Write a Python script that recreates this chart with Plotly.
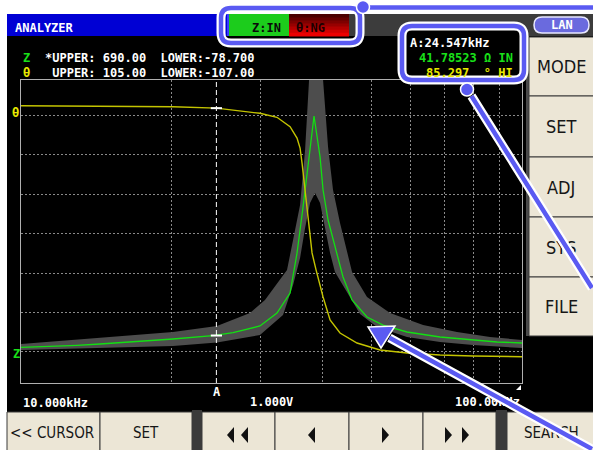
import plotly.graph_objects as go

# ---------------- data ----------------
f_start_khz, f_stop_khz = 10.0, 100.0
z_lower, z_upper = -78.7, 690.0
t_lower, t_upper = -107.0, 105.0

grid_freq_khz = [20, 30, 40, 50, 60, 70, 80, 90]

z_freq_khz = [10.00, 11.06, 12.94, 14.38, 16.73, 20.11, 24.16, 26.50, 29.99, 32.43,
              34.44, 35.56, 36.56, 37.41, 38.45, 39.53, 40.08, 41.01, 42.73, 43.93,
              45.79, 49.05, 52.80, 58.95, 68.61, 79.84, 89.18, 100.0]
z_ohm = [11.9, 13.4, 16.9, 20.2, 25.3, 32.9, 41.3, 48.9, 65.9, 98.9,
         149.6, 251.1, 367.8, 479.4, 598.7, 494.7, 410.9, 334.8, 251.1, 190.2,
         131.9, 88.7, 68.4, 50.7, 38.0, 30.4, 25.3, 22.8]

band_hi_freq_khz = [10.00, 14.38, 20.11, 24.61, 28.65, 30.69, 32.43, 33.96, 34.92, 36.06,
                    36.90, 37.58, 38.81, 39.53, 40.08, 41.01, 41.96, 43.33, 45.79, 49.05,
                    54.52, 63.47, 74.18, 86.34, 100.0]
band_hi_ohm = [20.2, 35.5, 50.7, 65.9, 98.9, 131.9, 175.0, 208.0, 284.1, 372.9,
               512.4, 690.0, 842.2, 766.1, 690.0, 520.0, 410.9, 327.2, 202.9, 139.5,
               98.9, 68.4, 50.7, 38.0, 30.4]

band_lo_freq_khz = [10.00, 14.38, 20.11, 24.61, 29.99, 33.34, 34.92, 36.06, 36.90, 37.75,
                    38.63, 39.53, 40.45, 41.39, 42.34, 44.75, 47.50, 51.36, 58.95, 68.61,
                    79.84, 100.0]
band_lo_ohm = [5.0, 10.1, 15.2, 24.0, 43.1, 93.8, 169.9, 238.4, 314.5, 378.0,
               403.3, 378.0, 314.5, 251.1, 202.9, 152.2, 96.4, 63.4, 38.0, 25.3,
               17.7, 10.1]

theta_freq_khz = [10.00, 16.28, 20.11, 24.55, 29.99, 32.43, 34.44, 35.56, 36.06, 36.39,
                  36.90, 37.41, 38.10, 38.81, 39.35, 40.08, 41.39, 43.33, 46.85, 52.07,
                  58.95, 68.61, 79.84, 100.0]
theta_deg = [87.0, 86.8, 86.3, 85.3, 81.7, 78.9, 72.3, 64.4, 57.4, 46.9,
             28.0, 4.9, -16.0, -27.9, -37.0, -46.8, -62.9, -72.0, -79.0, -83.9,
             -86.0, -87.4, -88.1, -88.6]

cursor_freq_khz = 24.547
cursor_z = 41.78523
cursor_theta = 85.297

right_buttons = ["MODE", "SET", "ADJ", "SYS", "FILE"]
bottom_buttons = ["<< CURSOR", "SET", "", "", "", "", "SEARCH"]

# ---------------- helpers ----------------
W, H = 593, 450
MONO = "DejaVu Sans Mono, monospace"
NARROW = "Liberation Sans Narrow, DejaVu Sans Condensed, Arial Narrow, sans-serif"
BLUE = "#5a5af2"
BEIGE = "#ece6d6"
NB = "\u00a0"


def PX(x):
    return x / W


def PY(y):
    return 1 - y / H


def rect(x0, y0, x1, y1, fill, lc=None, lw=0, layer="below"):
    return dict(type="rect", xref="paper", yref="paper", x0=PX(x0), x1=PX(x1),
                y0=PY(y1), y1=PY(y0), fillcolor=fill,
                line=dict(color=lc or fill, width=lw), layer=layer)


def rr_path(x0, y0, x1, y1, r):
    X, Y = PX, PY
    return (f"M {X(x0 + r)},{Y(y0)} L {X(x1 - r)},{Y(y0)} Q {X(x1)},{Y(y0)} {X(x1)},{Y(y0 + r)} "
            f"L {X(x1)},{Y(y1 - r)} Q {X(x1)},{Y(y1)} {X(x1 - r)},{Y(y1)} "
            f"L {X(x0 + r)},{Y(y1)} Q {X(x0)},{Y(y1)} {X(x0)},{Y(y1 - r)} "
            f"L {X(x0)},{Y(y0 + r)} Q {X(x0)},{Y(y0)} {X(x0 + r)},{Y(y0)} Z")


def poly(pts, fill, lc=None, lw=0, layer="below"):
    d = "M " + " L ".join(f"{PX(x)},{PY(y)}" for x, y in pts) + " Z"
    return dict(type="path", xref="paper", yref="paper", path=d, fillcolor=fill,
                line=dict(color=lc or fill, width=lw), layer=layer)


def txt(s, x, y, color, size=12, family=MONO, xanchor="left", weight="bold"):
    return dict(text=s.replace(" ", NB), x=PX(x), y=PY(y), xref="paper", yref="paper",
                xanchor=xanchor, yanchor="middle", showarrow=False, borderpad=0,
                borderwidth=0, font=dict(family=family, size=size, color=color, weight=weight))


def seg(xa, ya, xb, yb, color, width):
    return dict(x=PX(xb), y=PY(yb), xref="paper", yref="paper", ax=xa - xb, ay=ya - yb,
                axref="pixel", ayref="pixel", text="", showarrow=True, arrowhead=0,
                arrowwidth=width, arrowcolor=color, standoff=0, startstandoff=0)


def k(v):
    return [f * 1000 for f in v]


# ---------------- traces ----------------
fig = go.Figure()
fig.add_trace(go.Scatter(x=k(band_hi_freq_khz), y=band_hi_ohm, mode="lines",
                         line=dict(width=0, color="#4d4d4d"), hoverinfo="skip"))
fig.add_trace(go.Scatter(x=k(band_lo_freq_khz), y=band_lo_ohm, mode="lines",
                         line=dict(width=0, color="#4d4d4d"), fill="tonexty",
                         fillcolor="#4d4d4d", hoverinfo="skip"))
fig.add_trace(go.Scatter(x=k(z_freq_khz), y=z_ohm, mode="lines",
                         line=dict(width=1.3, color="#12e012"), hoverinfo="skip"))
fig.add_trace(go.Scatter(x=k(theta_freq_khz), y=theta_deg, mode="lines", yaxis="y2",
                         line=dict(width=1.4, color="#c4c400"), hoverinfo="skip"))
fig.add_trace(go.Scatter(x=k([cursor_freq_khz]), y=[cursor_z], mode="markers",
                         marker=dict(symbol="line-ew", size=8, line=dict(width=2, color="white")),
                         hoverinfo="skip"))
fig.add_trace(go.Scatter(x=k([cursor_freq_khz]), y=[cursor_theta], mode="markers", yaxis="y2",
                         marker=dict(symbol="line-ew", size=8, line=dict(width=2, color="white")),
                         hoverinfo="skip"))

# ---------------- shapes ----------------
shapes = []
shapes.append(rect(7, 14, 594, 451, "black"))
shapes.append(rect(7, 14, 229, 36, "#0000d4"))
shapes.append(rect(227, 14, 229, 36, "#3a3aff"))
shapes.append(rect(229, 14, 289, 36, "#1ccc1c"))
reds = ["#4a0000", "#640000", "#7e0000", "#980000", "#b40000", "#d00000", "#ec0000"]
for i, c in enumerate(reds):
    h = 22 / len(reds)
    shapes.append(rect(289, 14 + i * h, 349, 14 + (i + 1) * h + 0.5, c))
shapes.append(rect(349, 14, 594, 36, "#3c3c3c"))
# LAN pill
shapes.append(dict(type="path", xref="paper", yref="paper", path=rr_path(534, 17, 589, 33, 8),
                   fillcolor="#6a6ade", line=dict(color="#e8e8ff", width=1.5), layer="below"))
# right panel buttons
shapes.append(rect(526, 36, 529, 336, "#4a4a4a"))
rb_edges = [37, 96, 157, 217, 277, 336]
for i in range(len(right_buttons)):
    shapes.append(rect(529, rb_edges[i], 595, rb_edges[i + 1], BEIGE, "#3a3a3a", 1))
# bottom buttons
bb_edges = [7, 100, 192, 202, 275, 349, 423, 496, 507, 595]
for i in range(len(bb_edges) - 1):
    a, b = bb_edges[i], bb_edges[i + 1]
    if (a, b) in [(192, 202), (496, 507)]:
        shapes.append(rect(a, 410, b, 451, "#3a3a3a"))
    else:
        shapes.append(rect(a, 412, b, 452, BEIGE, "#3a3a3a", 1))
# arrow glyphs on bottom buttons
for a in [227, 241]:
    shapes.append(poly([(a + 7, 427), (a, 435), (a + 7, 443)], "#111111"))
shapes.append(poly([(315, 427), (308, 435), (315, 443)], "#111111"))
shapes.append(poly([(382, 427), (389, 435), (382, 443)], "#111111"))
for a in [445, 462]:
    shapes.append(poly([(a, 427), (a + 7, 435), (a, 443)], "#111111"))
# little corner mark of plot
shapes.append(poly([(521, 385), (521, 390), (516, 390)], "white"))
# cursor A line
shapes.append(dict(type="line", xref="x", yref="y domain", x0=cursor_freq_khz * 1000,
                   x1=cursor_freq_khz * 1000, y0=0, y1=1,
                   line=dict(color="white", width=1, dash="5px,3px"), layer="above"))
# callout 1 (judgement box)
shapes.append(dict(type="line", xref="paper", yref="paper", x0=PX(363), x1=PX(594),
                   y0=PY(7.5), y1=PY(7.5), line=dict(color="white", width=9), layer="above"))
shapes.append(dict(type="line", xref="paper", yref="paper", x0=PX(363), x1=PX(594),
                   y0=PY(7.5), y1=PY(7.5), line=dict(color=BLUE, width=4.5), layer="above"))
shapes.append(dict(type="path", xref="paper", yref="paper", path=rr_path(221, 8, 360, 43, 10),
                   line=dict(color="white", width=9), layer="above"))
shapes.append(dict(type="path", xref="paper", yref="paper", path=rr_path(221, 8, 360, 43, 10),
                   line=dict(color=BLUE, width=4.5), layer="above"))
shapes.append(dict(type="circle", xref="paper", yref="paper", x0=PX(356.5), x1=PX(369.5),
                   y0=PY(13.5), y1=PY(0.5), fillcolor=BLUE, line=dict(color="white", width=1.5),
                   layer="above"))
# callout 2 (cursor readout box)
shapes.append(dict(type="path", xref="paper", yref="paper", path=rr_path(402, 26, 524, 80, 10),
                   fillcolor="black", line=dict(color="white", width=9), layer="above"))
shapes.append(dict(type="path", xref="paper", yref="paper", path=rr_path(402, 26, 524, 80, 10),
                   line=dict(color=BLUE, width=4.5), layer="above"))
shapes.append(dict(type="circle", xref="paper", yref="paper", x0=PX(460.5), x1=PX(473.5),
                   y0=PY(96), y1=PY(83), fillcolor=BLUE, line=dict(color="white", width=1.5),
                   layer="above"))
# callout 3 arrow head
shapes.append(poly([(368, 327), (395, 326), (381, 348)], BLUE, "white", 1.5, layer="above"))

# ---------------- annotations ----------------
ann = []
ann.append(txt("ANALYZER", 15, 28, "white"))
ann.append(txt("Z:IN", 266, 28, "#0a0a0a", xanchor="center"))
ann.append(txt("θ:NG", 310, 28, "#1a0000", xanchor="center"))
ann.append(txt("LAN", 561.5, 25, "white", size=12, xanchor="center"))
ann.append(txt("Z", 26, 58, "#19e019", xanchor="center"))
ann.append(txt(f"*UPPER: {z_upper:.2f}  LOWER:{z_lower:.3f}", 45, 58, "white"))
ann.append(txt("θ", 26, 73, "#e8e800", xanchor="center"))
ann.append(txt(f" UPPER: {t_upper:.2f}  LOWER:{t_lower:.2f}", 45, 73, "white"))
ann.append(txt("θ", 15, 113, "#e8e800", xanchor="center"))
ann.append(txt("Z", 16, 354, "#19e019", xanchor="center"))
ann.append(txt(f"A:{cursor_freq_khz:.3f}kHz", 410, 43, "white"))
ann.append(txt(f"{cursor_z:.5f} Ω IN", 513, 58, "#19e019", xanchor="right"))
ann.append(txt(f"{cursor_theta:.3f}  ° HI", 513, 73, "#e8e800", xanchor="right"))
ann.append(txt(f"{f_start_khz:.3f}kHz", 23, 403, "white"))
ann.append(txt("A", 217, 392, "white", xanchor="center"))
ann.append(txt("1.000V", 250, 402, "white"))
ann.append(txt(f"{f_stop_khz:.2f}kHz", 520, 402, "white", xanchor="right"))
rb_centers = [66, 127, 187, 247, 306]
for name, yc in zip(right_buttons, rb_centers):
    ann.append(txt(name, 561, yc, "#161616", size=18, family=NARROW, xanchor="center",
                   weight="normal"))
bb_centers = [52, 146, None, 238, 312, 386, 460, None, 551]
labels_iter = iter(bottom_buttons)
for i, cx in enumerate(bb_centers):
    if cx is None:
        continue
    lab = next(labels_iter)
    if lab:
        ann.append(txt(lab, cx, 433, "#161616", size=15, family=NARROW, xanchor="center",
                       weight="normal"))
# callout lines on top of everything
ann.append(seg(470.5, 94.5, 596, 288, "white", 9))
ann.append(seg(470.5, 94.5, 596, 288, BLUE, 4.5))
ann.append(seg(388, 337, 598, 452, "white", 9))
ann.append(seg(388, 337, 598, 452, BLUE, 4.5))

axis_line = "#b0b0b0"
fig.update_layout(
    width=W, height=H, margin=dict(l=0, r=0, t=0, b=0),
    paper_bgcolor="white", plot_bgcolor="black", showlegend=False, hovermode=False,
    xaxis=dict(type="log", range=[4, 5], domain=[PX(21), PX(522)],
               tickvals=k(grid_freq_khz), showticklabels=False, ticks="",
               showgrid=True, gridcolor="#8a8a8a", griddash="2px,2px", gridwidth=1,
               showline=True, mirror=True, linecolor=axis_line, linewidth=1, zeroline=False,
               fixedrange=True),
    yaxis=dict(range=[z_lower, z_upper], domain=[PY(383), PY(80)], tick0=0, dtick=100,
               showticklabels=False, ticks="", showgrid=True, gridcolor="#8a8a8a",
               griddash="2px,2px", gridwidth=1, showline=True, mirror=True,
               linecolor=axis_line, linewidth=1, zeroline=False, fixedrange=True),
    yaxis2=dict(range=[t_lower, t_upper], overlaying="y", visible=False, fixedrange=True),
    shapes=shapes, annotations=ann,
)

fig.write_html(
    "out.html",
    config={"displayModeBar": False},
    post_script="document.body.style.margin='0';document.body.style.overflow='hidden';",
)
